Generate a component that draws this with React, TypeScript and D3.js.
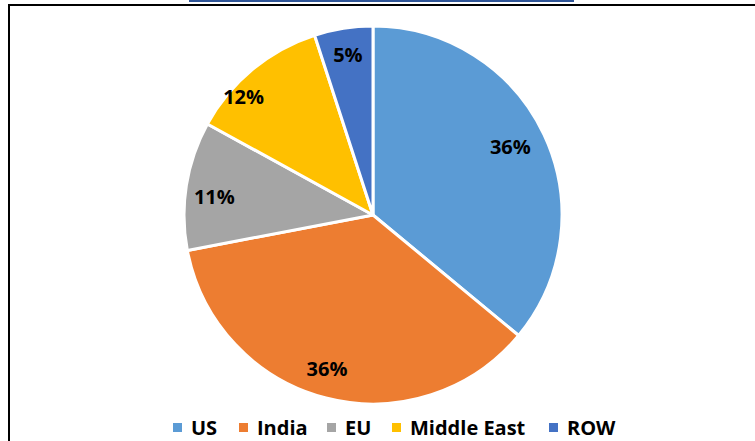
import React from "react";
import * as d3 from "d3";

// Share by region
const regions = ["US", "India", "EU", "Middle East", "ROW"];
const shares = [36, 36, 11, 12, 5];
const colors = ["#5B9BD5", "#ED7D31", "#A5A5A5", "#FFC000", "#4472C4"];
// legend item x positions (marker left edge)
const legendX = [173, 239, 327, 392, 549];
// small per-label nudges, like Excel's best-fit placement
const labelNudge = [
  [-8, 0],
  [-6, -2],
  [0, 7],
  [-27, 5],
  [0, -2],
];

const W = 755;
const H = 441;
const cx = 373;
const cy = 215;
const R = 189;

export default function App() {
  const pie = d3
    .pie<number>()
    .sort(null)
    .value((d) => d)(shares);

  const arc = d3.arc<d3.PieArcDatum<number>>().innerRadius(0).outerRadius(R);
  const labelArc = d3
    .arc<d3.PieArcDatum<number>>()
    .innerRadius(R * 0.85)
    .outerRadius(R * 0.85);

  const total = d3.sum(shares);

  return (
    <svg
      width={W}
      height={H}
      style={{ position: "absolute", left: 0, top: 0, background: "#fff" }}
      fontFamily="'Open Sans', sans-serif"
    >
      {/* cut-off link text at the very top */}
      <rect x={189} y={0} width={385} height={2} fill="#2F5597" />

      {/* frame (top + left only visible) */}
      <line x1={9} y1={5} x2={W} y2={5} stroke="#000" strokeWidth={2} />
      <line x1={9} y1={4} x2={9} y2={H} stroke="#000" strokeWidth={2} />

      <g transform={`translate(${cx},${cy})`}>
        {pie.map((p, i) => (
          <path
            key={regions[i]}
            d={arc(p) ?? ""}
            fill={colors[i]}
            stroke="#fff"
            strokeWidth={3}
            strokeLinejoin="round"
          />
        ))}
        {pie.map((p, i) => {
          const [x, y] = labelArc.centroid(p);
          return (
            <text
              key={`l-${regions[i]}`}
              x={x + labelNudge[i][0]}
              y={y + labelNudge[i][1]}
              textAnchor="middle"
              dominantBaseline="central"
              fontSize={20}
              fontWeight="bold"
              fill="#000"
            >
              {`${Math.round((p.value / total) * 100)}%`}
            </text>
          );
        })}
      </g>

      {/* legend */}
      <g>
        {regions.map((r, i) => (
          <g key={`lg-${r}`} transform={`translate(${legendX[i]},427.5)`}>
            <rect x={0} y={-4.5} width={9} height={9} fill={colors[i]} />
            <text
              x={18}
              y={0}
              dominantBaseline="central"
              fontSize={20}
              fontWeight="bold"
              fill="#000"
            >
              {r}
            </text>
          </g>
        ))}
      </g>
    </svg>
  );
}
